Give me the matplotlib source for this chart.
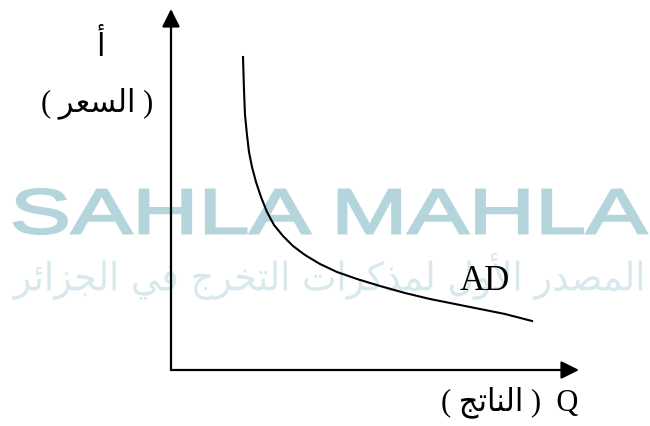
import matplotlib
matplotlib.use("Agg")
import matplotlib.pyplot as plt
from matplotlib.textpath import TextPath
from matplotlib.font_manager import FontProperties
from matplotlib.patches import PathPatch
from matplotlib.transforms import Affine2D

# AD curve (Q = output, P = price, arbitrary units)
q_ad = [72, 73, 74, 76, 78, 81, 85, 90, 96, 103, 112, 122, 134, 149, 166,
        186, 209, 234, 259, 284, 309, 334, 361]
p_ad = [313, 280, 255, 235, 218, 203, 188, 173, 158, 145, 134, 124, 115, 106,
        98, 91, 84, 77, 71, 66, 61, 56, 49]

# axis lengths
q_max = 408
p_max = 361

# Arabic text, already shaped (presentation forms, logical order)
price_ar = "\uFE8D\uFEDF\uFEB4\uFECC\uFEAE"          # السعر
output_ar = "\uFE8D\uFEDF\uFEE8\uFE8E\uFE97\uFE9E"   # الناتج
alef_ar = "\uFE83"                                    # أ
wm_words = [
    "\uFE8D\uFEDF\uFEE4\uFEBC\uFEAA\uFEAD",        # المصدر
    "\uFE8D\uFEF7\uFEED\uFEDD",                    # الأول
    "\uFEDF\uFEE4\uFEAC\uFEDB\uFEAE\uFE8D\uFE95",  # لمذكرات
    "\uFE8D\uFEDF\uFE98\uFEA8\uFEAE\uFE9D",        # التخرج
    "\uFED3\uFEF2",                                # في
    "\uFE8D\uFEDF\uFEA0\uFEB0\uFE8D\uFE8B\uFEAE",  # الجزائر
]
wm_latin = "SAHLA MAHLA"


def rtl(s):
    # matplotlib draws left to right, so flip the logical order
    return s[::-1]


def fit_text(ax, text, prop, box, color, lw=0):
    # draw text as a path stretched into box = (x0, x1, y0, y1)
    tp = TextPath((0, 0), text, size=100, prop=prop)
    ext = tp.get_extents()
    x0, x1, y0, y1 = box
    sx = (x1 - x0) / ext.width
    sy = (y1 - y0) / ext.height
    tr = Affine2D().translate(-ext.x0, -ext.y0).scale(sx, sy).translate(x0, y0)
    ax.add_patch(PathPatch(tr.transform_path(tp), facecolor=color,
                           edgecolor=color, lw=lw, zorder=1))


fig = plt.figure(figsize=(6.5, 4.26), dpi=100)
ax = fig.add_axes([0, 0, 1, 1])
ax.set_xlim(-171, 479)
ax.set_ylim(-56, 370)
ax.axis("off")

# watermark
fit_text(ax, wm_latin, FontProperties(family="Liberation Sans"),
         (-157, 476, 136, 181), "#b3d5db", lw=1.6)
fit_text(ax, rtl(" ".join(wm_words)), FontProperties(family="DejaVu Sans"),
         (-159, 471, 70, 117), "#d8e9ed")

# axes with arrows
arrow = dict(arrowstyle="-|>,head_length=0.4,head_width=0.2",
             mutation_scale=27, color="black", lw=1.6, shrinkA=0, shrinkB=0)
ax.annotate("", xy=(0, p_max), xytext=(0, 0), arrowprops=arrow, zorder=3)
ax.annotate("", xy=(q_max, 0), xytext=(0, 0), arrowprops=arrow, zorder=3)

# AD curve
ax.plot(q_ad, p_ad, color="black", lw=1.5, zorder=3)

fam = ["Liberation Serif", "DejaVu Sans"]
ax.text(-70, 323, alef_ar, family=fam, fontsize=22, ha="center", va="center")
ax.text(-74, 267, "( " + rtl(price_ar) + " )", family=fam, fontsize=22,
        ha="center", va="center")
ax.text(314, 89, "AD", family=fam, fontsize=25, ha="center", va="center")
ax.text(339, -32, "( " + rtl(output_ar) + " )  Q", family=fam, fontsize=22,
        ha="center", va="center")

fig.savefig("out.png", dpi=100)
